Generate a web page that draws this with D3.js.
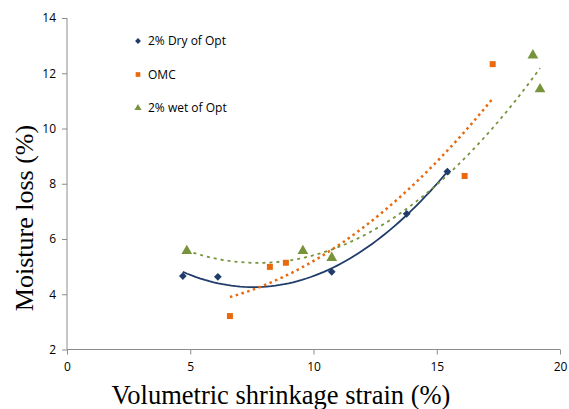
<!DOCTYPE html>
<html>
<head>
<meta charset="utf-8">
<script src="https://cdn.jsdelivr.net/npm/d3@7"></script>
<style>
  body { margin: 0; background: #fff; }
  svg { display: block; }
</style>
</head>
<body>
<div id="chart-area"></div>
<script>
const width = 569;
const height = 409;

const dryX = [4.7, 6.12, 10.74, 13.78, 15.43];
const dryY = [4.66, 4.63, 4.81, 6.91, 8.44];
const omcX = [6.61, 8.23, 8.88, 16.13, 17.27];
const omcY = [3.21, 4.99, 5.14, 8.28, 12.33];
const wetX = [4.86, 9.57, 10.74, 18.9, 19.19];
const wetY = [5.57, 5.57, 5.32, 12.65, 11.42];

const xTicks = [0, 5, 10, 15, 20];
const yTicks = [2, 4, 6, 8, 10, 12, 14];

const seriesNames = ['2% Dry of Opt', 'OMC', '2% wet of Opt'];
const seriesColors = ['#1f3c6a', '#e8690e', '#77933c'];

let svg = d3.select('#chart-area').append('svg').attr('width', width).attr('height', height);

let x = d3.scaleLinear().domain([0, 20]).range([67, 560]);
let y = d3.scaleLinear().domain([2, 14]).range([349.5, 18]);

// axes
let xAxis = svg.append('g').attr('transform', 'translate(0,349.5)')
    .call(d3.axisBottom(x).tickValues(xTicks).tickSize(5).tickPadding(6));
let yAxis = svg.append('g').attr('transform', 'translate(67,0)')
    .call(d3.axisLeft(y).tickValues(yTicks).tickSize(5).tickPadding(6));

[xAxis, yAxis].forEach((a) => {
    a.selectAll('path, line').attr('stroke', '#8c8c8c');
    a.select('.domain').attr('d', a === xAxis ? 'M67,0H560' : 'M0,18V349.5');
    a.selectAll('text').attr('font-family', 'Open Sans, sans-serif').attr('font-size', 12).attr('fill', '#000');
});
xAxis.selectAll('text').attr('dy', '0.9em');

// 2nd order polynomial least squares fit, as the spreadsheet trendline
function polyFit(xs, ys) {
    let n = xs.length;
    let s = [0, 0, 0, 0, 0], t = [0, 0, 0];
    for (let i = 0; i < n; i++) {
        for (let k = 0; k < 5; k++) s[k] += Math.pow(xs[i], k);
        for (let k = 0; k < 3; k++) t[k] += ys[i] * Math.pow(xs[i], k);
    }
    let m = [[s[0], s[1], s[2], t[0]], [s[1], s[2], s[3], t[1]], [s[2], s[3], s[4], t[2]]];
    for (let i = 0; i < 3; i++) {
        for (let j = i + 1; j < 3; j++) {
            let f = m[j][i] / m[i][i];
            for (let k = i; k < 4; k++) m[j][k] -= f * m[i][k];
        }
    }
    let c = [0, 0, 0];
    for (let i = 2; i >= 0; i--) {
        let v = m[i][3];
        for (let k = i + 1; k < 3; k++) v -= m[i][k] * c[k];
        c[i] = v / m[i][i];
    }
    return (v) => c[0] + c[1] * v + c[2] * v * v;
}

let series = [
    { xs: dryX, ys: dryY, dash: null, width: 1.8 },
    { xs: omcX, ys: omcY, dash: '2.5,3.5', width: 2.5 },
    { xs: wetX, ys: wetY, dash: '3,4', width: 1.8 }
];

let line = d3.line().x((d) => x(d[0])).y((d) => y(d[1]));

series.forEach((s, i) => {
    let f = polyFit(s.xs, s.ys);
    let x0 = d3.min(s.xs), x1 = d3.max(s.xs);
    let pts = d3.range(0, 61).map((k) => { let v = x0 + (x1 - x0) * k / 60; return [v, f(v)]; });
    svg.append('path').datum(pts)
        .attr('d', line)
        .attr('fill', 'none')
        .attr('stroke', seriesColors[i])
        .attr('stroke-width', s.width)
        .attr('stroke-dasharray', s.dash);
});

let symbols = [d3.symbolDiamond2, d3.symbolSquare, d3.symbolTriangle];
let sizes = [38, 36, 50];

series.forEach((s, i) => {
    let pts = s.xs.map((v, k) => [v, s.ys[k]]);
    svg.selectAll('.pt' + i).data(pts).enter().append('path')
        .attr('class', 'pt' + i)
        .attr('transform', (d) => 'translate(' + x(d[0]) + ',' + y(d[1]) + ')')
        .attr('d', d3.symbol().type(symbols[i]).size(sizes[i]))
        .attr('fill', seriesColors[i]);
});

// legend
let legend = svg.append('g');
seriesNames.forEach((name, i) => {
    let ly = 41 + i * 33.5;
    legend.append('path')
        .attr('transform', 'translate(138,' + ly + ')')
        .attr('d', d3.symbol().type(symbols[i]).size(22))
        .attr('fill', seriesColors[i]);
    legend.append('text')
        .attr('x', 148).attr('y', ly)
        .attr('dy', '0.35em')
        .attr('font-family', 'Open Sans, sans-serif')
        .attr('font-size', 12)
        .text(name);
});

// axis titles
svg.append('text')
    .attr('x', 281).attr('y', 404)
    .attr('text-anchor', 'middle')
    .attr('font-family', 'Liberation Serif, Times New Roman, serif')
    .attr('font-size', 26.5)
    .text('Volumetric shrinkage strain (%)');

svg.append('text')
    .attr('transform', 'translate(33,218) rotate(-90)')
    .attr('text-anchor', 'middle')
    .attr('font-family', 'Liberation Serif, Times New Roman, serif')
    .attr('font-size', 26)
    .text('Moisture loss (%)');
</script>
</body>
</html>
